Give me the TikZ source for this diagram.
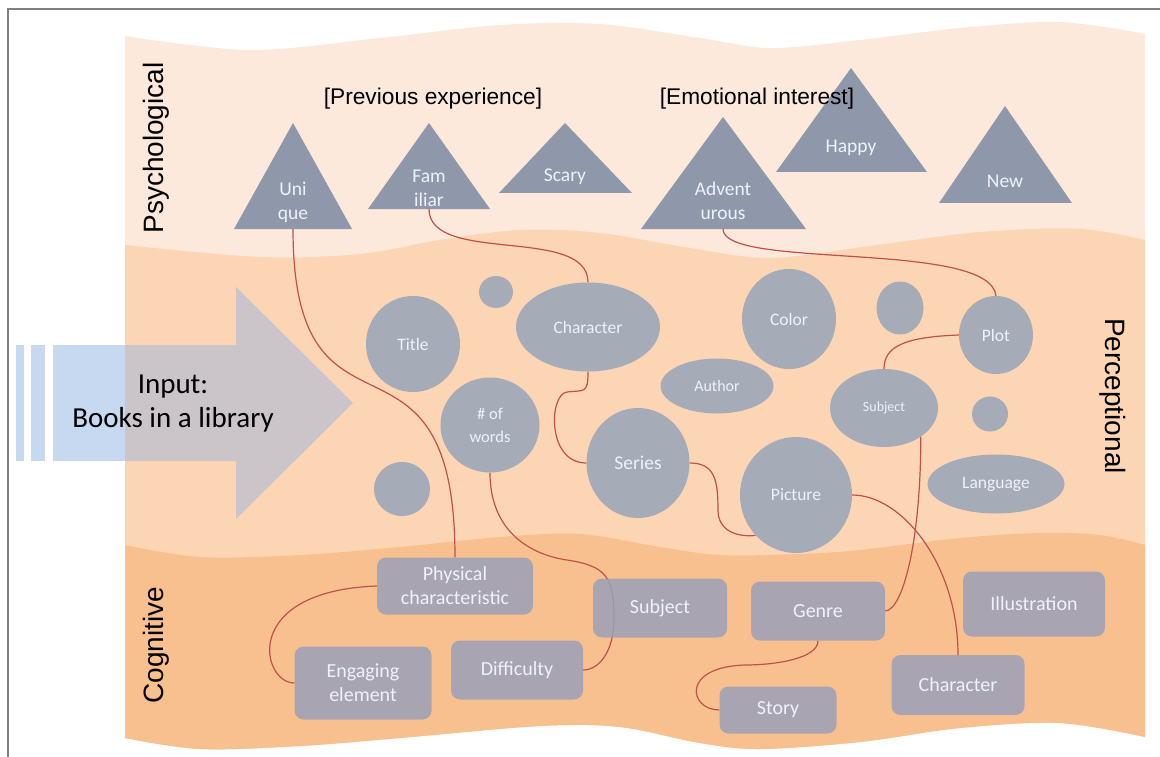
\documentclass[tikz,border=0pt]{standalone}
\usepackage{fontspec}
\setmainfont{Carlito}
\newfontfamily\labelfont{Liberation Sans}
\usetikzlibrary{positioning,shapes.geometric}

\definecolor{psyfill}{RGB}{252,233,219}
\definecolor{perfill}{RGB}{251,213,180}
\definecolor{cogfill}{RGB}{249,192,143}
\definecolor{trifill}{RGB}{142,152,170}
\definecolor{blobfill}{RGB}{166,171,184}
\definecolor{boxfill}{RGB}{155,160,184}
\definecolor{shapetext}{RGB}{238,242,250}
\definecolor{linkred}{RGB}{192,80,77}
\definecolor{arrowblue}{RGB}{198,217,240}
\definecolor{arrowgray}{RGB}{203,197,201}
\definecolor{framegray}{RGB}{128,128,128}

\pgfdeclarelayer{bands}
\pgfdeclarelayer{links}
\pgfsetlayers{bands,links,main}

\begin{document}
\begin{tikzpicture}[x=1pt,y=-1pt,
    blob/.style={ellipse,fill=blobfill,inner sep=0pt,text=shapetext,align=center,font=\fontsize{17.5}{21}\selectfont},
    box/.style={rectangle,rounded corners=9pt,fill=boxfill,fill opacity=0.85,text opacity=1,inner sep=0pt,text=shapetext,align=center,font=\fontsize{20}{24}\selectfont},
    tri/.style={fill=trifill},
    trilabel/.style={text=shapetext,align=center,font=\fontsize{19.5}{24}\selectfont},
    group/.style={font=\labelfont\fontsize{22.7}{26}\selectfont},
    layer/.style={font=\labelfont\fontsize{28}{32}\selectfont},
    link/.style={draw=linkred,line width=1.2pt},
    edge/.style={smooth,tension=0.55}
]
\useasboundingbox (0,0) rectangle (1160,757);

% Bands and input arrow
\begin{pgfonlayer}{bands}
\fill[psyfill] plot[edge] coordinates {(125,36) (250,50) (380,38) (500,25) (600,24) (700,38) (770,48) (860,40) (960,28) (1060,22) (1145,34)}
    -- plot[edge] coordinates {(1145,737) (1060,723) (960,728) (860,742) (760,749) (700,743) (620,727) (540,726) (400,738) (300,746) (200,749) (125,738)} -- cycle;
\fill[perfill] plot[edge] coordinates {(125,245) (260,257) (360,254) (440,240) (520,230) (600,233) (690,248) (770,258) (870,246) (980,232) (1080,229) (1145,240)}
    -- plot[edge] coordinates {(1145,737) (1060,723) (960,728) (860,742) (760,749) (700,743) (620,727) (540,726) (400,738) (300,746) (200,749) (125,738)} -- cycle;
\fill[cogfill] plot[edge] coordinates {(125,545) (200,557) (300,555) (400,547) (500,537) (580,534) (660,547) (720,555) (800,554) (860,550) (960,538) (1040,533) (1100,535) (1145,545)}
    -- plot[edge] coordinates {(1145,737) (1060,723) (960,728) (860,742) (760,749) (700,743) (620,727) (540,726) (400,738) (300,746) (200,749) (125,738)} -- cycle;

\fill[arrowblue] (16,345) rectangle (24,461);
\fill[arrowblue] (31,345) rectangle (45,461);
\fill[arrowblue] (53,345) rectangle (125,461);
\fill[arrowgray] (125,345) -- (236,345) -- (236,287) -- (353,403) -- (236,519) -- (236,461) -- (125,461) -- cycle;
\end{pgfonlayer}

\draw[framegray,line width=2pt] (8,757) -- (8,9) -- (1160,9);

\node[font=\fontsize{29}{34}\selectfont,align=center] (input) at (173,404) {Input:\\Books in a library};

% Band names
\node[layer,rotate=90] (psychological) at (156,148) {Psychological};
\node[layer,rotate=90] (cognitive) at (156,645) {Cognitive};
\node[layer,rotate=-90] (perceptional) at (1113,396) {Perceptional};

% Psychological triangles
\foreach \n/\ax/\ay/\bl/\br/\by in {unique/293/123/234/352/229, familiar/429/123/368/490/209, scary/565/123/499/632/193, adventurous/723/117/641/806/229, happy/851/68/776/927/172, new/1005/106/939/1072/203} {
    \fill[tri] (\ax,\ay) -- (\bl,\by) -- (\br,\by) -- cycle;
    \coordinate (psy_\n) at (\ax,\by);
}
\node[trilabel] (lbl_unique) at (293,202) {Uni\\que};
\node[trilabel] (lbl_familiar) at (429,188) {Fam\\iliar};
\node[trilabel] (lbl_scary) at (565,177) {Scary};
\node[trilabel] (lbl_adventurous) at (723,201) {Advent\\urous};
\node[trilabel] (lbl_happy) at (851,148) {Happy};
\node[trilabel] (lbl_new) at (1005,181) {New};

\node[group] (previous) at (433,99) {[Previous experience]};
\node[group] (emotional) at (757,99) {[Emotional interest]};

% Perceptional blobs
\node[blob,minimum width=94pt,minimum height=96pt] (per_title) at (413,344) {Title};
\node[blob,minimum width=34pt,minimum height=32pt] (per_dot1) at (496,292) {};
\node[blob,minimum width=144pt,minimum height=89pt] (per_character) at (588,327) {Character};
\node[blob,minimum width=99pt,minimum height=95pt,font=\fontsize{16.5}{23}\selectfont] (per_words) at (490,425) {\# of\\words};
\node[blob,minimum width=56pt,minimum height=54pt] (per_dot2) at (402,489) {};
\node[blob,minimum width=103pt,minimum height=110pt,font=\fontsize{19.5}{23}\selectfont] (per_series) at (638,463) {Series};
\node[blob,minimum width=113pt,minimum height=55pt,font=\fontsize{16}{19}\selectfont] (per_author) at (717,386) {Author};
\node[blob,minimum width=94pt,minimum height=100pt] (per_color) at (789,319) {Color};
\node[blob,minimum width=47pt,minimum height=53pt] (per_dot3) at (900,308) {};
\node[blob,minimum width=74pt,minimum height=78pt] (per_plot) at (996,335) {Plot};
\node[blob,minimum width=108pt,minimum height=78pt,font=\fontsize{14}{17}\selectfont] (per_subject) at (884,408) {Subject};
\node[blob,minimum width=36pt,minimum height=35pt] (per_dot4) at (990,414) {};
\node[blob,minimum width=112pt,minimum height=116pt] (per_picture) at (796,495) {Picture};
\node[blob,minimum width=137pt,minimum height=59pt] (per_language) at (996,484) {Language};

% Cognitive boxes
\node[box,minimum width=156pt,minimum height=57pt] (cog_physical) at (455,586) {Physical\\characteristic};
\node[box,minimum width=137pt,minimum height=73pt] (cog_engaging) at (363,683) {Engaging\\element};
\node[box,minimum width=132pt,minimum height=59pt] (cog_difficulty) at (517,670) {Difficulty};
\node[box,minimum width=134pt,minimum height=59pt] (cog_subject) at (660,608) {Subject};
\node[box,minimum width=134pt,minimum height=59pt] (cog_genre) at (818,611) {Genre};
\node[box,minimum width=142pt,minimum height=65pt] (cog_illustration) at (1034,604) {Illustration};
\node[box,minimum width=133pt,minimum height=60pt] (cog_character) at (958,685) {Character};
\node[box,minimum width=117pt,minimum height=47pt] (cog_story) at (778,710) {Story};

% Links (behind the shapes)
\begin{pgfonlayer}{links}
\draw[link] (psy_unique) .. controls +(0,240) and +(0,-258) .. (cog_physical.north);
\draw[link] (psy_familiar) .. controls +(0,56) and +(0,-57) .. (per_character.north);
\draw[link] (psy_adventurous) .. controls +(0,41) and +(-6,-56) .. (per_plot.north);
\draw[link] (per_character.south) .. controls +(0,22) and +(18,-2) .. (567,392) .. controls +(-18,2) and +(-40,0) .. (per_series.west);
\draw[link] (per_words.south) .. controls +(0,60) and +(-35,-5) .. (567,560) .. controls +(40,6) and +(0,-40) .. (614,618) .. controls +(0,35) and +(15,0) .. (cog_difficulty.east);
\draw[link] (per_series.east) .. controls +(25,0) and +(0,-30) .. (718,510) .. controls +(0,20) and +(-20,2) .. (per_picture.225);
\draw[link] (per_plot.west) .. controls +(-55,2) and +(0,-22) .. (per_subject.north);
\draw[link] (per_subject.-38) .. controls +(0,103) and +(18,-1) .. (cog_genre.east);
\draw[link] (per_picture.east) .. controls +(50,0) and +(0,-90) .. (cog_character.north);
\draw[link] (cog_genre.south) .. controls +(0,18) and +(30,0) .. (745,665) .. controls +(-65,2) and +(-30,0) .. (cog_story.west);
\draw[link] (cog_physical.west) .. controls +(-137,5) and +(-33,0) .. (cog_engaging.west);
\end{pgfonlayer}

\end{tikzpicture}
\end{document}
